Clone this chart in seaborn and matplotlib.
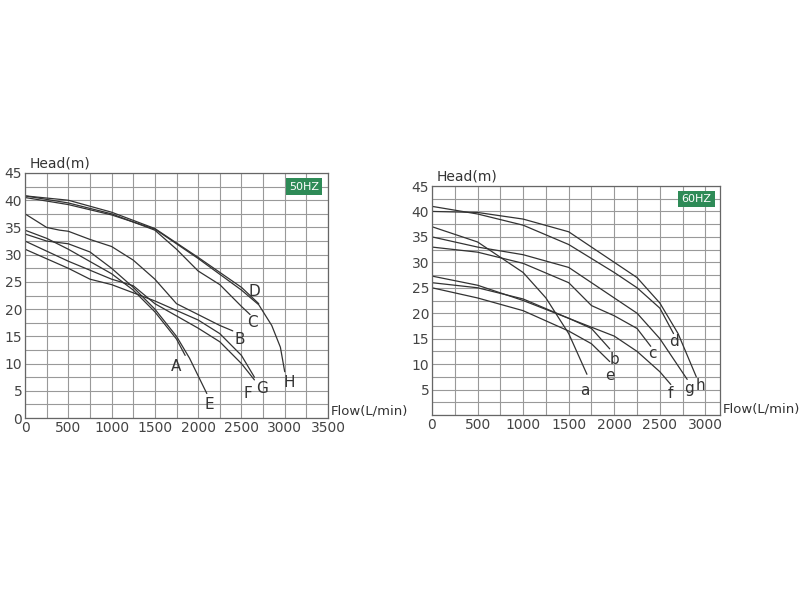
import matplotlib
matplotlib.use("Agg")
import matplotlib.pyplot as plt
import seaborn as sns
import pandas as pd
import numpy as np

sns.set_theme(style="white")
plt.rcParams['font.family'] = ['DejaVu Sans']

# 50 Hz curves
c50 = {
 "A": ([0,250,500,1000,1250,1500,1750,1850],[34.5,33,31,26.5,23.5,19.5,14.5,11.5]),
 "E": ([0,250,500,750,1000,1250,1500,1750,1900,2100],[33.8,32.5,32,30.5,27.5,24,20,15,11,4.5]),
 "B": ([0,250,400,500,750,1000,1250,1500,1750,2000,2250,2400],[37.5,35,34.5,34.3,32.8,31.5,29,25.5,21,19,17,16]),
 "C": ([0,500,1000,1500,1750,2000,2250,2500,2600],[40.8,39.5,37.5,34.5,31,27,24.5,20.5,19]),
 "D": ([0,500,1000,1500,2000,2500,2700],[40.8,40,37.8,34.8,29.5,24,21]),
 "H": ([0,500,1000,1500,2000,2500,2700,2850,2950,3000],[40.5,39.2,37.3,34.7,29.3,23.5,20.8,17,13,8.5]),
 "F": ([0,500,1000,1250,1500,2000,2250,2500,2650],[32.5,28.8,25.5,24.3,21,16.5,14,10,7]),
 "G": ([0,500,750,1000,1250,1500,2000,2250,2500,2650],[31,27.5,25.5,24.5,23,21.5,18,15.5,11.5,7.5]),
}
lab50 = {"A":(1750,9.5),"E":(2130,2.5),"B":(2480,14.5),"C":(2630,17.5),"D":(2650,23.3),
         "H":(3050,6.5),"F":(2580,4.5),"G":(2740,5.5)}
# 60 Hz curves
c60 = {
 "a": ([0,500,1000,1250,1500,1700],[37,34,28,23,16,8]),
 "b": ([0,500,1000,1500,1750,1950],[26,25,22.8,19,17,13]),
 "e": ([0,500,1000,1500,1750,1950],[25,23,20.5,16.5,14,10.5]),
 "f": ([0,500,1000,1500,2000,2250,2500,2620],[27.3,25.5,22.5,19,15.5,12.5,8.5,6]),
 "c": ([0,500,1000,1500,1750,2000,2250,2400],[33,32,29.8,26,21.5,19.5,17,13.5]),
 "g": ([0,500,1000,1500,1750,2000,2250,2500,2800],[35,33,31.5,29,26,23,20,15,7]),
 "d": ([0,500,1000,1500,2000,2250,2500,2650],[41,39.5,37.3,33.5,28,25,21,16]),
 "h": ([0,500,1000,1500,1750,2000,2250,2500,2700,2900],[40,39.8,38.5,36,33,30,27,22,16,7.5]),
}
lab60 = {"a":(1680,4.8),"b":(2000,11),"e":(1950,7.7),"f":(2620,4.2),"c":(2420,12),
         "g":(2820,5.3),"d":(2650,14.5),"h":(2950,5.8)}

fig = plt.figure(figsize=(8,6), dpi=100)
ax1 = fig.add_axes([25/800, 1-418/600, 303/800, 245/600])
ax2 = fig.add_axes([432/800, 1-415/600, 288/800, 229/600])

def draw(ax, curves, labs, xlim, ylim, xt, yt, badge):
    for k,(x,y) in curves.items():
        sns.lineplot(x=x, y=y, ax=ax, color="#333333", lw=0.9, sort=False)
        lx, ly = labs[k]
        ax.text(lx, ly, k, fontsize=11, color="#333333", ha="center", va="center")
    ax.set_xlim(*xlim); ax.set_ylim(*ylim)
    ax.set_xticks(xt); ax.set_yticks(yt)
    ax.set_xticks(np.arange(0, xlim[1]+1, 250), minor=True)
    ax.set_yticks(np.arange(0, 45.1, 2.5), minor=True)
    ax.grid(True, which="both", color="#999999", lw=0.8)
    ax.tick_params(which="both", length=0, labelsize=10, labelcolor="#444444", pad=2)
    for s in ax.spines.values():
        s.set_color("#666666"); s.set_linewidth(0.9)
    ax.text(0.015, 1.01, "Head(m)", transform=ax.transAxes, fontsize=10, color="#333333", va="bottom")
    ax.text(1.01, 0.0, "Flow(L/min)", transform=ax.transAxes, fontsize=9.5, color="#333333", va="bottom")
    ax.text(0.97, 0.965, badge, transform=ax.transAxes, fontsize=8, color="white", ha="right", va="top",
            bbox=dict(boxstyle="square,pad=0.3", fc="#2e8b57", ec="none"))

draw(ax1, c50, lab50, (0,3500), (0,45), range(0,3501,500), range(0,46,5), "50HZ")
draw(ax2, c60, lab60, (0,3160), (3.5,45), range(0,3001,500), range(5,46,5), "60HZ")
fig.savefig("out.png", dpi=100)
